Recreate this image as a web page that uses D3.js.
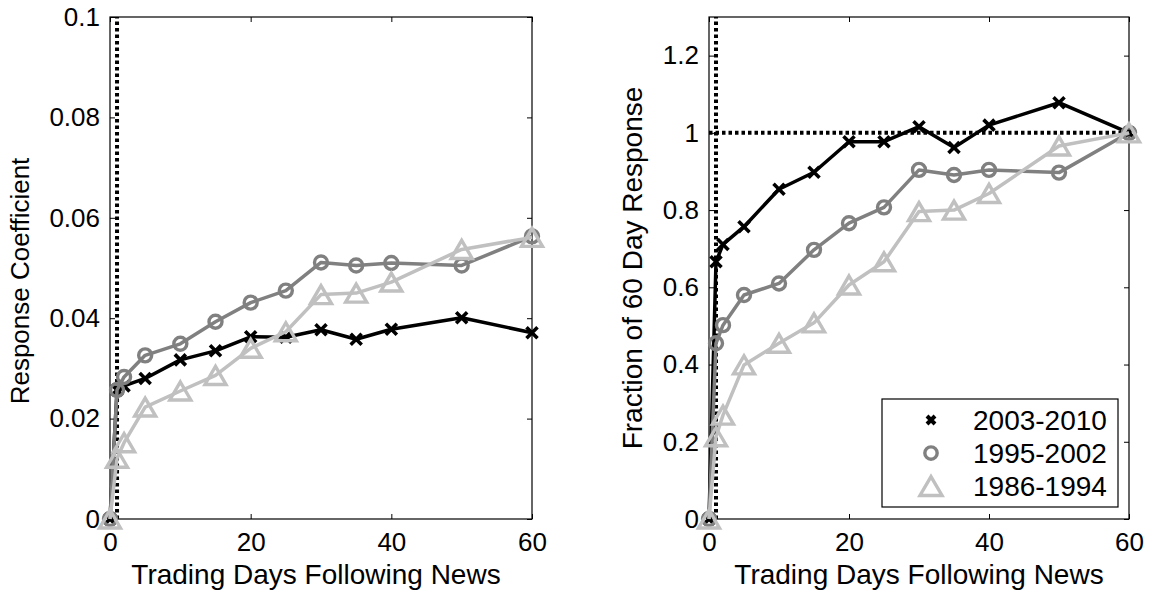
<!DOCTYPE html>
<html><head><meta charset="utf-8">
<script src="https://cdn.jsdelivr.net/npm/d3@7"></script>
<style>
html,body{margin:0;padding:0;background:#fff;}
svg text{font-family:"Liberation Sans",Arial,Helvetica,sans-serif;fill:#000;}
</style></head>
<body>
<svg id="chart" width="1149" height="593"></svg>
<script>
// ---- data ----
const days = [0, 1, 2, 5, 10, 15, 20, 25, 30, 35, 40, 50, 60];
const coef2003 = [0, 0.0257, 0.0265, 0.0280, 0.0317, 0.0335, 0.0363, 0.0362, 0.0377, 0.0358, 0.0378, 0.0401, 0.0371];
const coef1995 = [0, 0.0257, 0.0283, 0.0326, 0.0349, 0.0393, 0.0431, 0.0455, 0.0511, 0.0505, 0.0510, 0.0505, 0.0563];
const coef1986 = [0, 0.0121, 0.0152, 0.0223, 0.0255, 0.0286, 0.0340, 0.0373, 0.0447, 0.0450, 0.0472, 0.0537, 0.0561];
const frac2003 = [0, 0.666, 0.711, 0.757, 0.854, 0.898, 0.977, 0.977, 1.016, 0.962, 1.020, 1.078, 1.0];
const frac1995 = [0, 0.455, 0.502, 0.580, 0.610, 0.697, 0.766, 0.807, 0.904, 0.891, 0.904, 0.897, 1.0];
const frac1986 = [0, 0.213, 0.269, 0.399, 0.455, 0.508, 0.606, 0.666, 0.796, 0.800, 0.843, 0.966, 1.0];
const seriesNames = ["2003-2010", "1995-2002", "1986-1994"];
const xTicks = [0, 20, 40, 60];
const yTicksLeft = [0, 0.02, 0.04, 0.06, 0.08, 0.1];
const yTicksRight = [0, 0.2, 0.4, 0.6, 0.8, 1, 1.2];
const eventDay = 1;
const fullResponse = 1;

// ---- styles ----
const colors = ["#000000", "#808080", "#c0c0c0"];
const markers = ["cross", "circle", "triangle"];
const TICKFONT = 26;
const LABELFONT = 28;

const svg = d3.select("#chart");

function drawMarker(g, type, x, y, color, scale) {
  scale = scale || 1;
  if (type === "cross") {
    const s = 5.5 * scale;
    g.append("path").attr("d", `M${x-s},${y-s}L${x+s},${y+s}M${x-s},${y+s}L${x+s},${y-s}`)
      .attr("stroke", color).attr("stroke-width", 3.6).attr("fill", "none");
  } else if (type === "circle") {
    g.append("circle").attr("cx", x).attr("cy", y).attr("r", 6.5 * scale)
      .attr("stroke", color).attr("stroke-width", 3.4).attr("fill", "none");
  } else {
    const w = 10.5 * scale, h = 9 * scale;
    g.append("path").attr("d", `M${x},${y-h}L${x+w},${y+h}L${x-w},${y+h}Z`)
      .attr("stroke", color).attr("stroke-width", 3.4).attr("fill", "none").attr("stroke-linejoin", "miter");
  }
}

function panel(opts) {
  const {x0, x1, y0, y1, yDomain, yTicks, yFmt, seriesList, ylabel, ylabelX, ylabelY, ylabelSize, xlabelX, hline} = opts;
  const x = d3.scaleLinear().domain([0, 60]).range([x0, x1]);
  const y = d3.scaleLinear().domain(yDomain).range([y1, y0]);
  const g = svg.append("g");

  // frame
  g.append("rect").attr("x", x0).attr("y", y0).attr("width", x1 - x0).attr("height", y1 - y0)
    .attr("fill", "none").attr("stroke", "#000").attr("stroke-width", 1.2);

  // axes via d3 (inward ticks)
  const axB = d3.axisBottom(x).tickValues(xTicks).tickSizeInner(-5).tickSizeOuter(0).tickPadding(14).tickFormat(d3.format("d"));
  const axT = d3.axisTop(x).tickValues(xTicks).tickSizeInner(-5).tickSizeOuter(0).tickFormat("");
  const axL = d3.axisLeft(y).tickValues(yTicks).tickSizeInner(-5).tickSizeOuter(0).tickPadding(10).tickFormat(yFmt);
  const axR = d3.axisRight(y).tickValues(yTicks).tickSizeInner(-5).tickSizeOuter(0).tickFormat("");
  const styleAxis = sel => {
    sel.select(".domain").remove();
    sel.selectAll(".tick line").attr("stroke", "#000").attr("stroke-width", 1);
    sel.selectAll("text").attr("font-size", TICKFONT).attr("font-family", '"Liberation Sans",Arial,sans-serif').attr("fill", "#000");
  };
  g.append("g").attr("transform", `translate(0,${y1})`).call(axB).call(styleAxis);
  g.append("g").attr("transform", `translate(0,${y0})`).call(axT).call(styleAxis);
  g.append("g").attr("transform", `translate(${x0},0)`).call(axL).call(styleAxis);
  g.append("g").attr("transform", `translate(${x1},0)`).call(axR).call(styleAxis);

  // x label
  g.append("text").attr("x", xlabelX).attr("y", 584).attr("text-anchor", "middle")
    .attr("font-size", LABELFONT).text("Trading Days Following News");
  // y label
  g.append("text").attr("transform", `translate(${ylabelX},${ylabelY}) rotate(-90)`)
    .attr("text-anchor", "middle").attr("font-size", ylabelSize).text(ylabel);

  // reference lines
  const dot = {"stroke": "#000", "stroke-width": 4, "stroke-dasharray": "3.5,3"};
  const vl = g.append("line").attr("x1", x(eventDay)).attr("x2", x(eventDay)).attr("y1", y1).attr("y2", y0);
  Object.entries(dot).forEach(([k, v]) => vl.attr(k, v));
  if (hline !== undefined) {
    const hl = g.append("line").attr("x1", x0).attr("x2", x1).attr("y1", y(hline)).attr("y2", y(hline));
    Object.entries(dot).forEach(([k, v]) => hl.attr(k, v));
  }

  // series
  const line = d3.line().x((d, i) => x(days[i])).y(d => y(d));
  seriesList.forEach((vals, si) => {
    const sg = g.append("g");
    sg.append("path").attr("d", line(vals)).attr("fill", "none")
      .attr("stroke", colors[si]).attr("stroke-width", 3.5).attr("stroke-linejoin", "round");
    vals.forEach((v, i) => drawMarker(sg, markers[si], x(days[i]), y(v), colors[si]));
  });
  return {x, y};
}

panel({x0: 110, x1: 532, y0: 17, y1: 519, yDomain: [0, 0.1], yTicks: yTicksLeft,
  yFmt: d => d === 0 ? "0" : d3.format("")(+d.toFixed(2)),
  seriesList: [coef2003, coef1995, coef1986], ylabel: "Response Coefficient", ylabelX: 29, ylabelY: 281,
  ylabelSize: 26, xlabelX: 316});

panel({x0: 709, x1: 1129, y0: 17, y1: 519, yDomain: [0, 1.3], yTicks: yTicksRight,
  yFmt: d => d3.format("")(+d.toFixed(1)),
  seriesList: [frac2003, frac1995, frac1986], ylabel: "Fraction of 60 Day Response", ylabelX: 642, ylabelY: 268,
  ylabelSize: LABELFONT, xlabelX: 919, hline: fullResponse});

// legend
const lg = svg.append("g");
lg.append("rect").attr("x", 882).attr("y", 399).attr("width", 236).attr("height", 108)
  .attr("fill", "#fff").attr("stroke", "#000").attr("stroke-width", 1.2);
seriesNames.forEach((name, i) => {
  const cy = 420 + i * 33;
  if (markers[i] === "cross") {
    lg.append("path").attr("d", `M${931-4},${cy-4}L${931+4},${cy+4}M${931-4},${cy+4}L${931+4},${cy-4}`)
      .attr("stroke", colors[i]).attr("stroke-width", 4);
  } else drawMarker(lg, markers[i], 931, cy, colors[i], i === 1 ? 0.95 : 1.05);
  lg.append("text").attr("x", 973).attr("y", cy + 10).attr("font-size", LABELFONT).text(name);
});
</script>
</body></html>
